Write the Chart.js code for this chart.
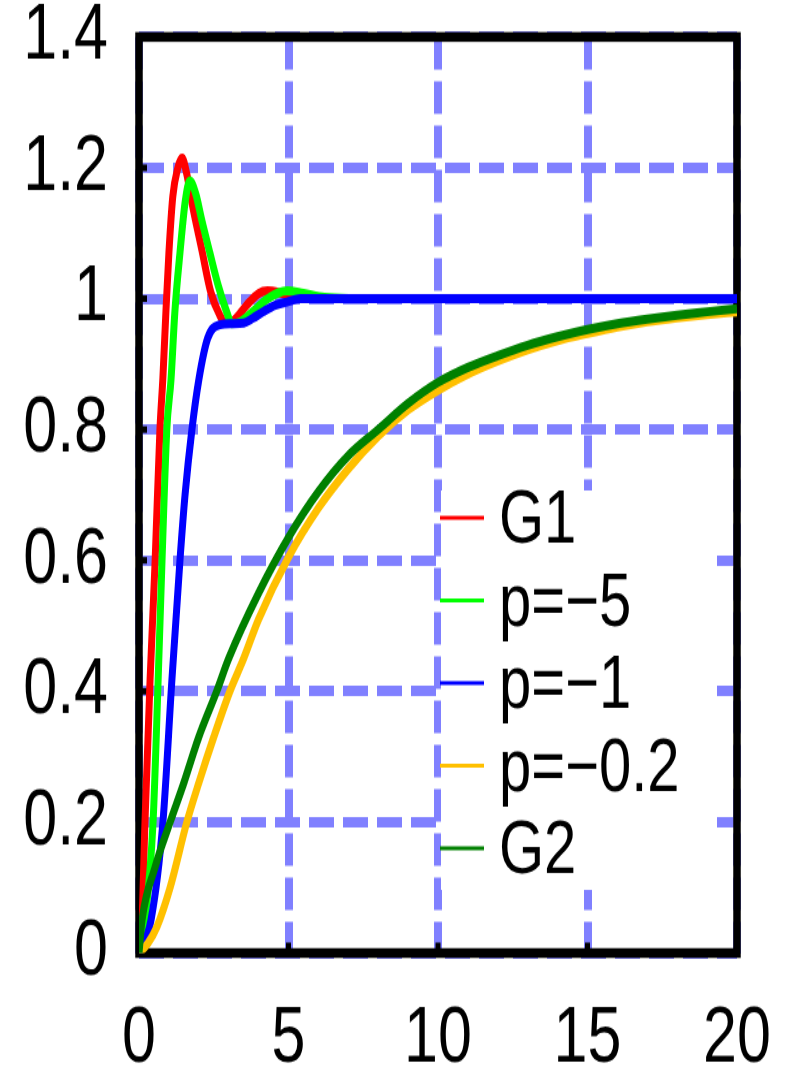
<!DOCTYPE html>
<html>
<head>
<meta charset="utf-8">
<script src="https://cdn.jsdelivr.net/npm/chart.js@4/dist/chart.umd.min.js"></script>
<style>
  html { margin: 0; padding: 0; background: #fff; overflow: hidden; }
  body { margin: 0; padding: 0; width: 792px; height: 1072px; }
  #wrap { width: 792px; height: 824px; transform: scaleY(1.301); transform-origin: 0 0; }
</style>
</head>
<body>
<div id="wrap"><canvas id="myChart" width="792" height="824"></canvas></div>
<script>
// tick labels
const xTickLabels = ['0', '5', '10', '15', '20'];
const yTickLabels = ['0', '0.2', '0.4', '0.6', '0.8', '1', '1.2', '1.4'];

// series (time, value)
const seriesNames = ['G1', 'p=\u22125', 'p=\u22121', 'p=\u22120.2', 'G2'];
const seriesColors = ['#ff0000', '#00ff00', '#0000ff', '#ffc000', '#008000'];

const g1T = [0, 0.1, 0.2, 0.37, 0.54, 0.7, 0.8, 0.9, 1.0, 1.13, 1.3, 1.44, 1.6, 1.8, 2.1, 2.4, 2.7, 2.9, 3.2, 3.6, 4.0, 4.3, 4.8, 5.3, 6.0, 7.5];
const g1V = [0, 0.05, 0.2, 0.417, 0.6, 0.8, 0.88, 0.98, 1.07, 1.156, 1.2, 1.215, 1.19, 1.14, 1.075, 1.01, 0.975, 0.963, 0.968, 0.99, 1.008, 1.012, 1.008, 1.002, 1.0, 1.0];

const p5T = [0, 0.2, 0.47, 0.64, 0.77, 0.93, 1.07, 1.2, 1.37, 1.55, 1.7, 1.9, 2.1, 2.37, 2.65, 2.93, 3.1, 3.4, 3.8, 4.3, 4.95, 5.5, 6.2, 7.4];
const p5V = [0, 0.05, 0.2, 0.417, 0.6, 0.8, 0.876, 0.98, 1.07, 1.15, 1.18, 1.16, 1.12, 1.07, 1.02, 0.98, 0.962, 0.965, 0.98, 1.0, 1.012, 1.008, 1.002, 1.0];

const p1T = [0, 0.4, 0.8, 1.1, 1.37, 1.54, 1.77, 2.0, 2.3, 2.7, 3.1, 3.5, 3.8, 4.15, 4.55, 4.95, 5.4, 6, 10, 15, 20];
const p1V = [0, 0.05, 0.2, 0.417, 0.6, 0.7, 0.8, 0.876, 0.94, 0.96, 0.962, 0.963, 0.97, 0.98, 0.99, 0.995, 1.0, 1.0, 1.0, 1.0, 1.0];

const p02T = [0, 0.3, 0.6, 1.04, 1.6, 2, 2.5, 3.04, 3.5, 4, 5, 6, 7, 8, 9, 10, 11, 12, 13, 14, 15, 16, 17, 18, 19, 20];
const p02V = [0, 0.015, 0.04, 0.1, 0.2, 0.26, 0.33, 0.4, 0.45, 0.51, 0.605, 0.68, 0.74, 0.79, 0.83, 0.86, 0.885, 0.905, 0.922, 0.936, 0.947, 0.957, 0.965, 0.971, 0.976, 0.98];

const g2T = [0, 0.1, 0.53, 1.04, 1.5, 2, 2.6, 3, 4, 5, 6, 7, 8, 9, 10, 11, 12, 13, 14, 15, 16, 17, 18, 19, 20];
const g2V = [0, 0.05, 0.13, 0.2, 0.26, 0.33, 0.4, 0.45, 0.55, 0.635, 0.705, 0.76, 0.8, 0.84, 0.872, 0.895, 0.913, 0.929, 0.942, 0.953, 0.962, 0.969, 0.975, 0.98, 0.985];

const seriesT = [g1T, p5T, p1T, p02T, g2T];
const seriesV = [g1V, p5V, p1V, p02V, g2V];

const FONT = '"Liberation Sans", Arial, sans-serif';
Chart.defaults.color = '#000';
Chart.defaults.font.family = FONT;

// frame, inner tick nubs and legend box drawn on the chart area
const framePlugin = {
  id: 'frame',
  beforeDatasetsDraw(chart) {
    const {ctx, chartArea: a, scales} = chart;
    ctx.save();
    // legend box (white, covers the grid)
    const lx = 441, ly = 377, lw = 269, lh = 307, row = 63.5;
    ctx.fillStyle = '#fff';
    ctx.fillRect(lx, ly, lw, lh);
    chart.data.datasets.forEach((ds, i) => {
      const y = ly + 21 + i * row;
      ctx.strokeStyle = ds.borderColor;
      ctx.lineWidth = 3;
      ctx.beginPath();
      ctx.moveTo(440, y);
      ctx.lineTo(484, y);
      ctx.stroke();
      ctx.fillStyle = '#000';
      ctx.font = '58px ' + FONT;
      ctx.textBaseline = 'middle';
      ctx.textAlign = 'left';
      ctx.fillText(ds.label, 499, y + 3);
    });
    // frame
    ctx.strokeStyle = '#000';
    ctx.lineWidth = 7.5;
    ctx.strokeRect(a.left, a.top, a.right - a.left, a.bottom - a.top);
    ctx.lineWidth = 5;
    scales.y.ticks.forEach(t => {
      const y = scales.y.getPixelForValue(t.value);
      ctx.beginPath(); ctx.moveTo(a.left, y); ctx.lineTo(a.left + 8, y); ctx.stroke();
    });
    scales.x.ticks.forEach(t => {
      const x = scales.x.getPixelForValue(t.value);
      ctx.beginPath(); ctx.moveTo(x, a.bottom); ctx.lineTo(x, a.bottom - 8); ctx.stroke();
    });
    ctx.restore();
  }
};

const gridOpts = { color: '#8080ff', lineWidth: 8, drawTicks: false };
const borderOpts = { display: false, dash: [25, 9] };

new Chart(document.getElementById('myChart').getContext('2d'), {
  type: 'line',
  data: {
    datasets: seriesNames.map((name, i) => ({
      label: name,
      data: seriesT[i].map((t, j) => ({x: t, y: seriesV[i][j]})),
      borderColor: seriesColors[i],
      backgroundColor: seriesColors[i],
      borderWidth: 7,
      pointRadius: 0,
      cubicInterpolationMode: 'monotone',
      fill: false,
      order: seriesNames.length - i
    }))
  },
  options: {
    responsive: false,
    animation: false,
    layout: { padding: { left: 0, right: 55, top: 28.4, bottom: 0 } },
    plugins: { legend: { display: false }, tooltip: { enabled: false } },
    scales: {
      x: {
        type: 'linear', min: 0, max: 20,
        grid: gridOpts, border: borderOpts,
        ticks: {
          stepSize: 5, padding: 30, maxRotation: 0,
          font: { size: 61, family: FONT },
          callback: (v, i) => xTickLabels[i]
        },
        afterFit(s) { s.height = 91.5; s.paddingLeft = 0; s.paddingRight = 0; }
      },
      y: {
        type: 'linear', min: 0, max: 1.4,
        grid: gridOpts, border: borderOpts,
        ticks: {
          stepSize: 0.2, padding: 31,
          font: { size: 61, family: FONT },
          callback: (v, i) => yTickLabels[i]
        },
        afterFit(s) { s.width = 139; s.paddingTop = 0; s.paddingBottom = 0; }
      }
    }
  },
  plugins: [framePlugin]
});
</script>
</body>
</html>
